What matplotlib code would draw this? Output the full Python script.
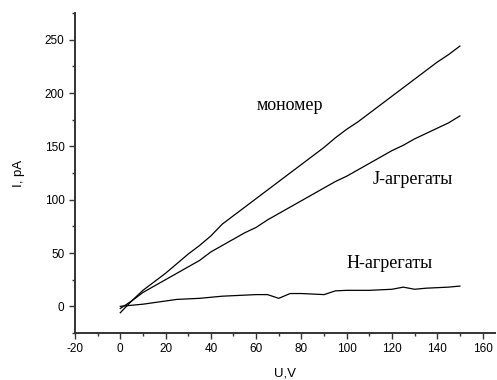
import matplotlib
matplotlib.use("Agg")
import matplotlib.pyplot as plt
from matplotlib.ticker import MultipleLocator

# voltage, V
u = [0, 5, 10, 15, 20, 25, 30, 35, 40, 45, 50, 55, 60, 65, 70, 75,
     80, 85, 90, 95, 100, 105, 110, 115, 120, 125, 130, 135, 140, 145, 150]

# current, pA
i_monomer = [-6, 5, 15, 23, 31, 40, 49, 57, 66, 77, 85, 93, 101, 109, 117, 125,
             133, 141, 149, 158, 166, 173, 181, 189, 197, 205, 213, 221, 229, 236, 244]
i_j = [-2, 5, 13, 19, 25, 31, 37, 43, 51, 57, 63, 69, 74, 81, 87, 93,
       99, 105, 111, 117, 122, 128, 134, 140, 146, 151, 157, 162, 167, 172, 178.5]
i_h = [0, 1, 2, 3.5, 5, 6.5, 7, 7.5, 8.5, 9.5, 10, 10.5, 11, 11, 7.5, 12,
       12, 11.5, 11, 14.5, 15, 15, 15, 15.5, 16, 18, 16, 17, 17.5, 18, 19]

plt.rcParams['font.family'] = 'Liberation Sans'
plt.rcParams['font.size'] = 8.5
plt.rcParams['axes.unicode_minus'] = False

fig = plt.figure(figsize=(4.97, 3.8), dpi=100)
ax = fig.add_axes([75 / 497, 1 - 333 / 380, 420 / 497, 320 / 380])

for y in (i_monomer, i_j, i_h):
    ax.plot(u, y, color='black', linewidth=0.9)

serif = dict(family='Liberation Serif', fontsize=13, ha='center', va='center')
ax.text(75, 188, 'мономер', **serif)
ax.text(129, 119, 'J-агрегаты', **serif)
ax.text(119, 40, 'H-агрегаты', **serif)

ax.set_xlim(-20, 165.5)
ax.set_ylim(-25, 275)
ax.xaxis.set_major_locator(MultipleLocator(20))
ax.xaxis.set_minor_locator(MultipleLocator(10))
ax.yaxis.set_major_locator(MultipleLocator(50))
ax.yaxis.set_minor_locator(MultipleLocator(25))
ax.tick_params(which='major', direction='out', length=4, width=1, color='#333333')
ax.tick_params(which='minor', direction='out', length=2.5, width=1, color='#333333')

for side in ('top', 'right'):
    ax.spines[side].set_visible(False)
for side in ('left', 'bottom'):
    ax.spines[side].set_linewidth(1.4)
    ax.spines[side].set_color('#333333')

ax.set_xlabel('U,V', fontsize=9.5, labelpad=9)
ax.set_ylabel('I, pA', fontsize=9.5, labelpad=14)

fig.savefig('out.png', dpi=100)
